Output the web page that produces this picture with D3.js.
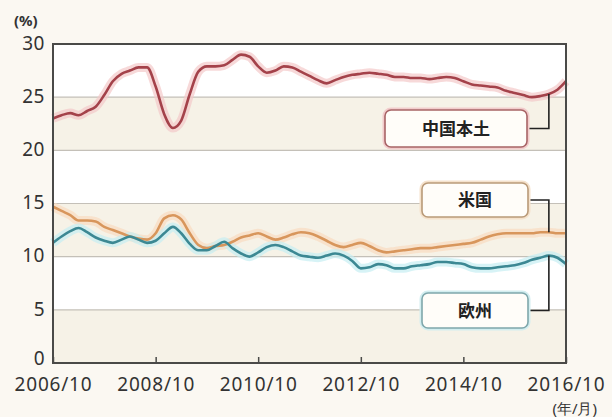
<!DOCTYPE html>
<html>
<head>
<meta charset="utf-8">
<script src="https://cdnjs.cloudflare.com/ajax/libs/d3/7.8.5/d3.min.js"></script>
<style>
  html, body { margin: 0; padding: 0; background: #fbf8f2; }
  svg { display: block; }
  .tick-label { font-family: "Noto Sans", sans-serif; fill: #333; }
  .box-label { font-family: "Noto Sans CJK JP", sans-serif; font-weight: bold; fill: #222; }
</style>
</head>
<body>
<svg id="chart" width="612" height="417"></svg>
<script>
// bimonthly samples, 2006/10 .. 2016/10
var startMonth = new Date(2006, 9, 1);
var endMonth = new Date(2016, 9, 1);
var months = d3.range(61).map(function (i) { return d3.timeMonth.offset(startMonth, 2 * i); });

var china = [23.0, 23.3, 23.5, 23.3, 23.7, 24.1, 25.2, 26.5, 27.2, 27.5,
             27.8, 27.8, 26.0, 23.4, 22.1, 22.8, 25.3, 27.4, 27.9, 27.9,
             28.0, 28.5, 29.0, 28.8, 27.9, 27.3, 27.5, 27.9, 27.8, 27.4,
             27.0, 26.6, 26.3, 26.6, 26.9, 27.1, 27.2, 27.3, 27.2, 27.1,
             26.9, 26.9, 26.8, 26.8, 26.7, 26.8, 26.9, 26.8, 26.5, 26.2,
             26.1, 26.0, 25.9, 25.6, 25.4, 25.2, 25.0, 25.1, 25.3, 25.7, 26.5];
var usa = [14.7, 14.3, 13.9, 13.4, 13.4, 13.3, 12.8, 12.5, 12.2, 11.9,
           11.7, 11.6, 12.2, 13.6, 13.9, 13.5, 12.2, 11.1, 10.8, 11.0,
           11.1, 11.4, 11.8, 12.0, 12.2, 11.9, 11.6, 11.8, 12.1, 12.3,
           12.2, 11.9, 11.5, 11.1, 10.9, 11.1, 11.3, 11.0, 10.6, 10.4,
           10.5, 10.6, 10.7, 10.8, 10.8, 10.9, 11.0, 11.1, 11.2, 11.3,
           11.6, 11.9, 12.1, 12.2, 12.2, 12.2, 12.2, 12.3, 12.3, 12.2, 12.2];
var europe = [11.3, 11.9, 12.4, 12.7, 12.3, 11.8, 11.5, 11.3, 11.6, 11.9,
              11.6, 11.3, 11.5, 12.2, 12.8, 12.2, 11.2, 10.6, 10.6, 11.0,
              11.4, 10.8, 10.3, 10.0, 10.4, 10.9, 11.1, 10.9, 10.5, 10.1,
              10.0, 9.9, 10.1, 10.3, 10.1, 9.6, 8.9, 9.0, 9.3, 9.2,
              8.9, 8.9, 9.1, 9.2, 9.3, 9.5, 9.5, 9.4, 9.3, 9.0,
              8.9, 8.9, 9.0, 9.1, 9.2, 9.4, 9.7, 9.9, 10.1, 9.9, 9.3];

var yTicks = [0, 5, 10, 15, 20, 25, 30];
var xTickLabels = ["2006/10", "2008/10", "2010/10", "2012/10", "2014/10", "2016/10"];
var seriesNames = ["中国本土", "米国", "欧州"];

var svg = d3.select("#chart");
var plotLeft = 53, plotRight = 566, plotTop = 44, plotBottom = 363;

var x = d3.scaleTime().domain([startMonth, endMonth]).range([plotLeft, plotRight]);
var y = d3.scaleLinear().domain([0, 30]).range([plotBottom, plotTop]);
var parseYM = d3.timeParse("%Y/%m");

//plot background with alternating bands
svg.append("rect").attr("x", plotLeft).attr("y", plotTop)
    .attr("width", plotRight - plotLeft).attr("height", plotBottom - plotTop).attr("fill", "#ffffff");
[[0, 5], [10, 15], [20, 25]].forEach(function (b) {
    svg.append("rect").attr("x", plotLeft).attr("y", y(b[1]))
        .attr("width", plotRight - plotLeft).attr("height", y(b[0]) - y(b[1]))
        .attr("fill", "#f6f2e7");
});

//grid lines
svg.append("g").selectAll("line").data(yTicks.slice(1, -1)).join("line")
    .attr("x1", plotLeft).attr("x2", plotRight)
    .attr("y1", function (d) { return y(d); }).attr("y2", function (d) { return y(d); })
    .attr("stroke", "#c4c0b8").attr("stroke-width", 1.2);

//series
var series = [
    {name: seriesNames[0], values: china, color: "#a4424a", glow: "#f3c9c9"},
    {name: seriesNames[1], values: usa, color: "#d8965c", glow: "#f9dcc0"},
    {name: seriesNames[2], values: europe, color: "#3c8893", glow: "#c6eef2"}
];

var line = d3.line()
    .x(function (d, i) { return x(months[i]); })
    .y(function (d) { return y(d); })
    .curve(d3.curveMonotoneX);

var lineG = svg.append("g");
series.forEach(function (s) {
    lineG.append("path").datum(s.values).attr("d", line)
        .attr("fill", "none").attr("stroke", s.glow).attr("stroke-width", 9)
        .attr("stroke-linejoin", "round").attr("opacity", 0.7);
});
series.forEach(function (s) {
    lineG.append("path").datum(s.values).attr("d", line)
        .attr("fill", "none").attr("stroke", s.color).attr("stroke-width", 2.6)
        .attr("stroke-linejoin", "round");
});

//frame
svg.append("rect").attr("x", plotLeft).attr("y", plotTop)
    .attr("width", plotRight - plotLeft).attr("height", plotBottom - plotTop)
    .attr("fill", "none").attr("stroke", "#4a4a48").attr("stroke-width", 2);

//axes
var yAxis = svg.append("g").attr("transform", "translate(" + plotLeft + ",0)")
    .call(d3.axisLeft(y).tickValues(yTicks).tickSize(0).tickPadding(8));
yAxis.select(".domain").remove();
yAxis.selectAll("text").attr("class", "tick-label").attr("font-size", 19)
    .attr("letter-spacing", 0.5)
    .attr("dy", function (d) { return d === 0 ? "0.1em" : "0.28em"; });

var xAxis = svg.append("g").attr("transform", "translate(0," + plotBottom + ")")
    .call(d3.axisBottom(x).tickValues(xTickLabels.map(parseYM))
        .tickFormat(d3.timeFormat("%Y/%m")).tickSize(-6).tickPadding(15));
xAxis.select(".domain").remove();
xAxis.selectAll("line").attr("stroke", "#4a4a48").attr("stroke-width", 1.5);
xAxis.selectAll("text").attr("class", "tick-label").attr("font-size", 19)
    .attr("letter-spacing", 0.8);

svg.append("text").attr("class", "tick-label").attr("x", 14).attr("y", 26)
    .attr("font-size", 15).attr("font-weight", "bold").attr("fill", "#444").text("(%)");
svg.append("text").attr("class", "tick-label").attr("x", 597).attr("y", 414)
    .attr("text-anchor", "end").attr("font-size", 15).attr("fill", "#333")
    .attr("font-family", "Noto Sans CJK JP").text("(年/月)");

//labels with connectors
var labelIdx = 58; // 2016/06
var labels = [
    {s: series[0], x0: 385, x1: 527, y0: 110, y1: 147, border: "#a86466", halo: "#f2cccc"},
    {s: series[1], x0: 422, x1: 528, y0: 183, y1: 217, border: "#b99a78", halo: "#f5e2cc"},
    {s: series[2], x0: 422, x1: 528, y0: 293, y1: 328, border: "#7fa7ab", halo: "#d3eef0"}
];
labels.forEach(function (l) {
    var cy = (l.y0 + l.y1) / 2;
    var cx = x(months[labelIdx]);
    svg.append("path")
        .attr("d", "M" + l.x1 + "," + cy + "H" + cx + "V" + y(l.s.values[labelIdx]))
        .attr("fill", "none").attr("stroke", "#222").attr("stroke-width", 1.6);
    svg.append("rect").attr("x", l.x0).attr("y", l.y0)
        .attr("width", l.x1 - l.x0).attr("height", l.y1 - l.y0).attr("rx", 6)
        .attr("fill", "none").attr("stroke", l.halo).attr("stroke-width", 5);
    svg.append("rect").attr("x", l.x0).attr("y", l.y0)
        .attr("width", l.x1 - l.x0).attr("height", l.y1 - l.y0).attr("rx", 6)
        .attr("fill", "#fffdf9").attr("stroke", l.border).attr("stroke-width", 1.6);
    svg.append("text").attr("class", "box-label")
        .attr("x", (l.x0 + l.x1) / 2).attr("y", cy + 6)
        .attr("text-anchor", "middle").attr("font-size", 17).text(l.s.name);
});
</script>
</body>
</html>
